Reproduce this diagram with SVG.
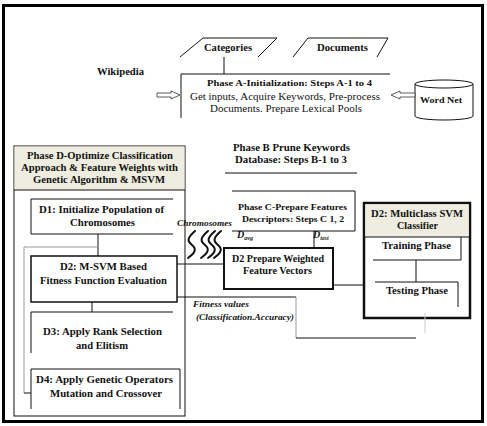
<svg xmlns="http://www.w3.org/2000/svg" width="487" height="426" viewBox="0 0 487 426" font-family="'Liberation Serif', 'DejaVu Serif', serif">
<style>
text{font-family:"Liberation Serif","DejaVu Serif",serif;fill:#111;}
.b{font-weight:bold;}
.t{font-size:10px;}
.s{font-size:9px;}
.it{font-style:italic;font-weight:bold;}
.ln{stroke:#111;stroke-width:1;fill:none;}
.gr{stroke:#999;stroke-width:1;fill:none;}
.hdr{fill:#eeeddf;}
.sq{stroke:#111;stroke-width:2;fill:none;stroke-linecap:round;}
</style>
<rect x="3.5" y="5.5" width="479" height="416" fill="#fff" stroke="#000" stroke-width="3"/>

<g id="categories">
  <polyline class="ln" points="180,57 203,38 277,38 258,57"/>
  <text class="b t" x="204" y="51" textLength="48" lengthAdjust="spacingAndGlyphs">Categories</text>
</g>
<g id="documents">
  <polyline class="ln" points="293,57 308,38 388,38 377,57"/>
  <text class="b t" x="317" y="51" textLength="51" lengthAdjust="spacingAndGlyphs">Documents</text>
</g>
<g id="wikipedia">
  <text class="b t" x="97" y="75" textLength="47" lengthAdjust="spacingAndGlyphs">Wikipedia</text>
</g>
<g id="phase-a">
  <path class="ln" d="M390,74 H181 V118"/>
  <text class="b s" x="207" y="86" textLength="165" lengthAdjust="spacingAndGlyphs">Phase A-Initialization: Steps A-1 to 4</text>
  <text font-size="10.5" x="190" y="99.5" textLength="190" lengthAdjust="spacingAndGlyphs">Get inputs, Acquire Keywords, Pre-process</text>
  <text font-size="10.5" x="210" y="111.5" textLength="152" lengthAdjust="spacingAndGlyphs">Documents. Prepare Lexical Pools</text>
</g>
<g id="wordnet">
  <path class="ln" d="M415,84 V116 A29,4 0 0 0 473,116 V84"/>
  <ellipse class="ln" cx="444" cy="84" rx="29" ry="4" fill="#fff"/>
  <text class="b s" x="420" y="103" textLength="42" lengthAdjust="spacingAndGlyphs">Word Net</text>
</g>
<g id="phase-b">
  <text class="b t" x="233" y="151" textLength="117" lengthAdjust="spacingAndGlyphs">Phase B Prune Keywords</text>
  <text class="b t" x="235" y="163" textLength="112" lengthAdjust="spacingAndGlyphs">Database: Steps B-1 to 3</text>
  <line class="ln" x1="225" y1="173" x2="357" y2="173"/>
</g>
<g id="phase-c">
  <path class="ln" d="M232,191 H355 V231 H232"/>
  <text class="b s" x="238" y="210" textLength="109" lengthAdjust="spacingAndGlyphs">Phase C-Prepare Features</text>
  <text class="b s" x="242" y="222" textLength="102" lengthAdjust="spacingAndGlyphs">Descriptors: Steps C 1, 2</text>
</g>
<g id="d2-prepare">
  <rect x="224" y="248" width="109" height="41" fill="#fff" stroke="#111" stroke-width="2"/>
  <text class="b t" x="232" y="262" textLength="92" lengthAdjust="spacingAndGlyphs">D2 Prepare Weighted</text>
  <text class="b t" x="243" y="274" textLength="69" lengthAdjust="spacingAndGlyphs">Feature Vectors</text>
</g>
<g id="phase-d">
  <rect x="14" y="146" width="171" height="270" fill="none" stroke="#111" stroke-width="1"/>
  <rect class="hdr" x="14.5" y="146.5" width="170" height="43.5"/>
  <line class="ln" x1="14" y1="190" x2="185" y2="190"/>
  <text class="b t" x="27" y="159" textLength="146" lengthAdjust="spacingAndGlyphs">Phase D-Optimize Classification</text>
  <text class="b t" x="21" y="171" textLength="157" lengthAdjust="spacingAndGlyphs">Approach &amp; Feature Weights with</text>
  <text class="b t" x="33" y="183" textLength="132" lengthAdjust="spacingAndGlyphs">Genetic Algorithm &amp; MSVM</text>
</g>
<g id="d1">
  <path class="ln" d="M173,199 H31 V234 H173"/>
  <text class="b" font-size="11" x="39" y="213" textLength="125" lengthAdjust="spacingAndGlyphs">D1: Initialize Population of</text>
  <text class="b" font-size="11" x="70" y="226" textLength="65" lengthAdjust="spacingAndGlyphs">Chromosomes</text>
</g>
<g id="d2-msvm">
  <rect x="31" y="256" width="146" height="46" fill="#fff" stroke="#111" stroke-width="1.5"/>
  <text class="b" font-size="11" x="60" y="270" textLength="87" lengthAdjust="spacingAndGlyphs">D2: M-SVM Based</text>
  <text class="b t" x="40" y="284" textLength="127" lengthAdjust="spacingAndGlyphs">Fitness Function Evaluation</text>
</g>
<g id="d3">
  <path class="ln" d="M173,312 H31 V353"/>
  <text class="b" font-size="11" x="43" y="335" textLength="119" lengthAdjust="spacingAndGlyphs">D3: Apply Rank Selection</text>
  <text class="b" font-size="11" x="76" y="349" textLength="52" lengthAdjust="spacingAndGlyphs">and Elitism</text>
</g>
<g id="d4">
  <path class="ln" d="M31,409 V369 H180 V409"/>
  <text class="b" font-size="11" x="36" y="383" textLength="137" lengthAdjust="spacingAndGlyphs">D4: Apply Genetic Operators</text>
  <text class="b" font-size="11" x="50" y="397" textLength="112" lengthAdjust="spacingAndGlyphs">Mutation and Crossover</text>
</g>
<g id="multiclass-svm">
  <rect x="364" y="203" width="106" height="115" fill="#fff" stroke="#111" stroke-width="2.5"/>
  <rect class="hdr" x="365.3" y="204.3" width="103.4" height="32.7"/>
  <line class="ln" x1="364" y1="237" x2="470" y2="237"/>
  <text class="b t" x="371" y="217" textLength="92" lengthAdjust="spacingAndGlyphs">D2: Multiclass SVM</text>
  <text class="b t" x="397" y="229" textLength="41" lengthAdjust="spacingAndGlyphs">Classifier</text>
</g>
<g id="training">
  <path class="ln" d="M373,260 H461 V237"/>
  <text class="b t" x="382" y="249" textLength="69" lengthAdjust="spacingAndGlyphs">Training Phase</text>
</g>
<g id="testing">
  <path class="ln" d="M375,282 H458 V307"/>
  <text class="b t" x="386" y="294" textLength="62" lengthAdjust="spacingAndGlyphs">Testing Phase</text>
</g>

<g id="connectors">
  <line class="ln" x1="224" y1="57" x2="224" y2="74"/>
  <polygon points="157,93 171,93 171,91 180,95 171,99 171,97 157,97" fill="#fff" stroke="#333" stroke-width="0.8"/>
  <polygon points="391,95 400,91 400,93 415,93 415,97 400,97 400,99" fill="#fff" stroke="#333" stroke-width="0.8"/>
  <line class="ln" x1="314" y1="231" x2="314" y2="248"/>
  <line class="ln" x1="98" y1="234" x2="98" y2="256"/>
  <polyline class="gr" points="24,393 24,247 98,247"/>
  <line class="ln" x1="24" y1="393" x2="31" y2="393"/>
  <line class="ln" x1="92" y1="302" x2="92" y2="312"/>
  <line class="ln" x1="177" y1="264" x2="224" y2="264"/>
  <line class="ln" x1="177" y1="297" x2="296" y2="297"/>
  <line class="gr" x1="296" y1="297" x2="296" y2="338"/>
  <line class="ln" x1="296" y1="338" x2="416" y2="338"/>
  <line class="ln" x1="333" y1="285" x2="364" y2="285"/>
  <line class="ln" x1="416" y1="260" x2="416" y2="282"/>
  <line stroke="#ccc" stroke-width="1" x1="425" y1="313" x2="425" y2="333"/>
  <g id="chromosome-waves">
    <path class="sq" d="M195,231 C187,238 187,241 192,245 C197,249 195,253 188,258"/>
    <path class="sq" d="M208,231 C200,238 200,241 205,245 C210,249 208,253 201,258"/>
    <path class="sq" d="M215,231 C207,238 207,241 212,245 C217,249 215,253 208,258"/>
    <path class="sq" d="M221,231 C213,238 213,241 218,245 C223,249 221,253 214,258"/>
  </g>
  <text class="it s" x="177" y="226" textLength="55" lengthAdjust="spacingAndGlyphs">Chromosomes</text>
  <text class="it" font-size="10" x="237" y="238">D<tspan font-size="6" dy="2">avg</tspan></text>
  <text class="it" font-size="10" x="313" y="238">D<tspan font-size="6" dy="2">test</tspan></text>
  <text class="it" font-size="8" x="193" y="307" textLength="56" lengthAdjust="spacingAndGlyphs">Fitness values</text>
  <text class="it" font-size="8" x="196" y="320" textLength="98" lengthAdjust="spacingAndGlyphs">(Classification.Accuracy)</text>
</g>
</svg>
